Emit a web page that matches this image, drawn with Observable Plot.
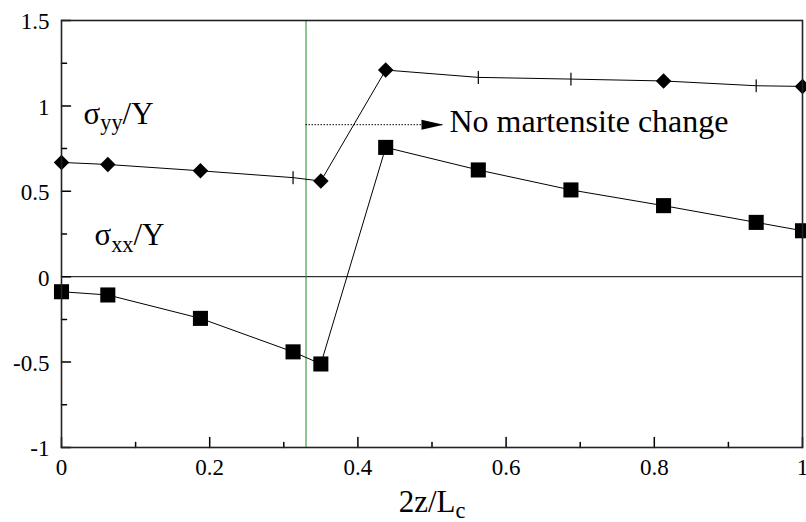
<!DOCTYPE html>
<html>
<head>
<meta charset="utf-8">
<script src="https://cdn.jsdelivr.net/npm/d3@7"></script>
<script src="https://cdn.jsdelivr.net/npm/@observablehq/plot@0.6"></script>
<style>
  html, body { margin: 0; padding: 0; background: #fff; overflow: hidden; }
  #chart svg { display: block; }
</style>
</head>
<body>
<div id="chart"></div>
<script>
// Positions along the specimen, 2z/Lc
const positions = [0, 0.0625, 0.1875, 0.3125, 0.35, 0.4375, 0.5625, 0.6875, 0.8125, 0.9375, 1];
// Normalised stresses sigma_yy / Y and sigma_xx / Y
const sigmaYY = [0.669, 0.657, 0.62, 0.58, 0.56, 1.21, 1.167, 1.157, 1.146, 1.118, 1.114];
const sigmaYYMarker = ["diamond", "diamond", "diamond", "bar", "diamond", "diamond", "bar", "bar", "diamond", "bar", "diamond"];
const sigmaXX = [-0.088, -0.107, -0.244, -0.44, -0.511, 0.757, 0.625, 0.508, 0.416, 0.318, 0.269];

// Axis ticks and labels
const xTicks = [0, 0.2, 0.4, 0.6, 0.8, 1];
const xTickLabels = ["0", "0.2", "0.4", "0.6", "0.8", "1"];
const xMinorTicks = [0.1, 0.3, 0.5, 0.7, 0.9];
const yTicks = [-1, -0.5, 0, 0.5, 1, 1.5];
const yTickLabels = ["-1", "-0.5", "0", "0.5", "1", "1.5"];
const yMinorTicks = [-0.75, -0.25, 0.25, 0.75, 1.25];

// Boundary of the transformed zone and the annotation arrow
const boundary = [0.33];
const note = [{from: 0.33, to: 0.5155, y: 0.89, text: "No martensite change"}];
const seriesLabels = [
  {x: 0.0297, y: 0.896, text: "σyy/Y"},
  {x: 0.0445, y: 0.187, text: "σxx/Y"}
];
const xLabel = ["2z/Lc"];

const yyRows = positions.map((x, i) => ({x, y: sigmaYY[i], marker: sigmaYYMarker[i]}));
const xxRows = positions.map((x, i) => ({x, y: sigmaXX[i]}));

const font = "Liberation Serif";
const lineShape = {draw(ctx, l) { ctx.moveTo(0, 0); ctx.lineTo(0, -l); }};
const headShape = {draw(ctx, l) { ctx.moveTo(0, -l); ctx.lineTo(5, 0); ctx.lineTo(-5, 0); ctx.closePath(); }};

const svg = Plot.plot({
  width: 806,
  height: 522,
  marginLeft: 61,
  marginRight: 4,
  marginTop: 20,
  marginBottom: 75,
  style: {fontFamily: font, background: "#fff", color: "#000", overflow: "visible"},
  x: {domain: [0, 1], axis: null},
  y: {domain: [-1, 1.5], axis: null},
  marks: [
    Plot.ruleY([0], {stroke: "black", strokeWidth: 1}),
    Plot.ruleX(boundary, {stroke: "#1f8a1f", strokeWidth: 1}),
    // inward ticks
    Plot.vector(yTicks, {y: d => d, frameAnchor: "left", length: 9, rotate: 90, anchor: "start", shape: lineShape, stroke: "black"}),
    Plot.vector(yMinorTicks, {y: d => d, frameAnchor: "left", length: 5, rotate: 90, anchor: "start", shape: lineShape, stroke: "black"}),
    Plot.vector(xTicks, {x: d => d, frameAnchor: "bottom", length: 10, rotate: 0, anchor: "start", shape: lineShape, stroke: "black"}),
    Plot.vector(xMinorTicks, {x: d => d, frameAnchor: "bottom", length: 5, rotate: 0, anchor: "start", shape: lineShape, stroke: "black"}),
    // tick labels
    Plot.text(yTicks, {y: d => d, text: (d, i) => yTickLabels[i], frameAnchor: "left", dx: -12, dy: 1.5, textAnchor: "end", lineAnchor: "middle", fontSize: 23, fontFamily: font, fill: "black"}),
    Plot.text(xTicks, {x: d => d, text: (d, i) => xTickLabels[i], frameAnchor: "bottom", dy: 20, lineAnchor: "middle", fontSize: 23, fontFamily: font, fill: "black"}),
    Plot.text(xLabel, {frameAnchor: "bottom", dy: 64, lineAnchor: "bottom", fontSize: 31, fontFamily: font, fill: "black"}),
    // series
    Plot.line(yyRows, {x: "x", y: "y", stroke: "black", strokeWidth: 1}),
    Plot.line(xxRows, {x: "x", y: "y", stroke: "black", strokeWidth: 1}),
    Plot.dot(yyRows.filter(d => d.marker === "diamond"), {x: "x", y: "y", symbol: "diamond2", r: 7, fill: "black"}),
    Plot.vector(yyRows.filter(d => d.marker === "bar"), {x: "x", y: "y", length: 12, anchor: "middle", shape: lineShape, stroke: "black", strokeWidth: 1.2}),
    Plot.dot(xxRows, {x: "x", y: "y", symbol: "square", r: 8.5, fill: "black"}),
    // annotation
    Plot.ruleY(note, {y: "y", x1: "from", x2: "to", stroke: "black", strokeDasharray: "1.5,1.5", strokeWidth: 1}),
    Plot.vector(note, {x: "to", y: "y", length: 22, rotate: 90, anchor: "end", shape: headShape, fill: "black", stroke: "none"}),
    Plot.text(note, {x: "to", y: "y", text: "text", dx: 6, dy: 7, textAnchor: "start", lineAnchor: "bottom", fontSize: 32, fontFamily: font, fill: "black"}),
    Plot.text(seriesLabels, {x: "x", y: "y", text: "text", textAnchor: "start", lineAnchor: "bottom", fontSize: 31, fontFamily: font, fill: "black"}),
    Plot.frame({stroke: "#222", strokeWidth: 1.6})
  ]
});

// Typeset subscripts in the stress and axis labels
const subs = {
  "σyy/Y": [["σ"], ["yy", true], ["/Y"]],
  "σxx/Y": [["σ"], ["xx", true], ["/Y"]],
  "2z/Lc": [["2z/L"], ["c", true]]
};
document.getElementById("chart").appendChild(svg);
d3.select(svg).selectAll("text").each(function () {
  const parts = subs[this.textContent];
  if (!parts) return;
  const el = d3.select(this);
  const size = parseFloat(getComputedStyle(this).fontSize) || 30;
  const shift = size * 0.22;
  el.text(null);
  let down = false;
  for (const [t, sub] of parts) {
    const ts = el.append("tspan").text(t);
    if (sub) { ts.attr("font-size", size * 0.72).attr("dy", shift); down = true; }
    else if (down) { ts.attr("dy", -shift); down = false; }
  }
});
</script>
</body>
</html>
